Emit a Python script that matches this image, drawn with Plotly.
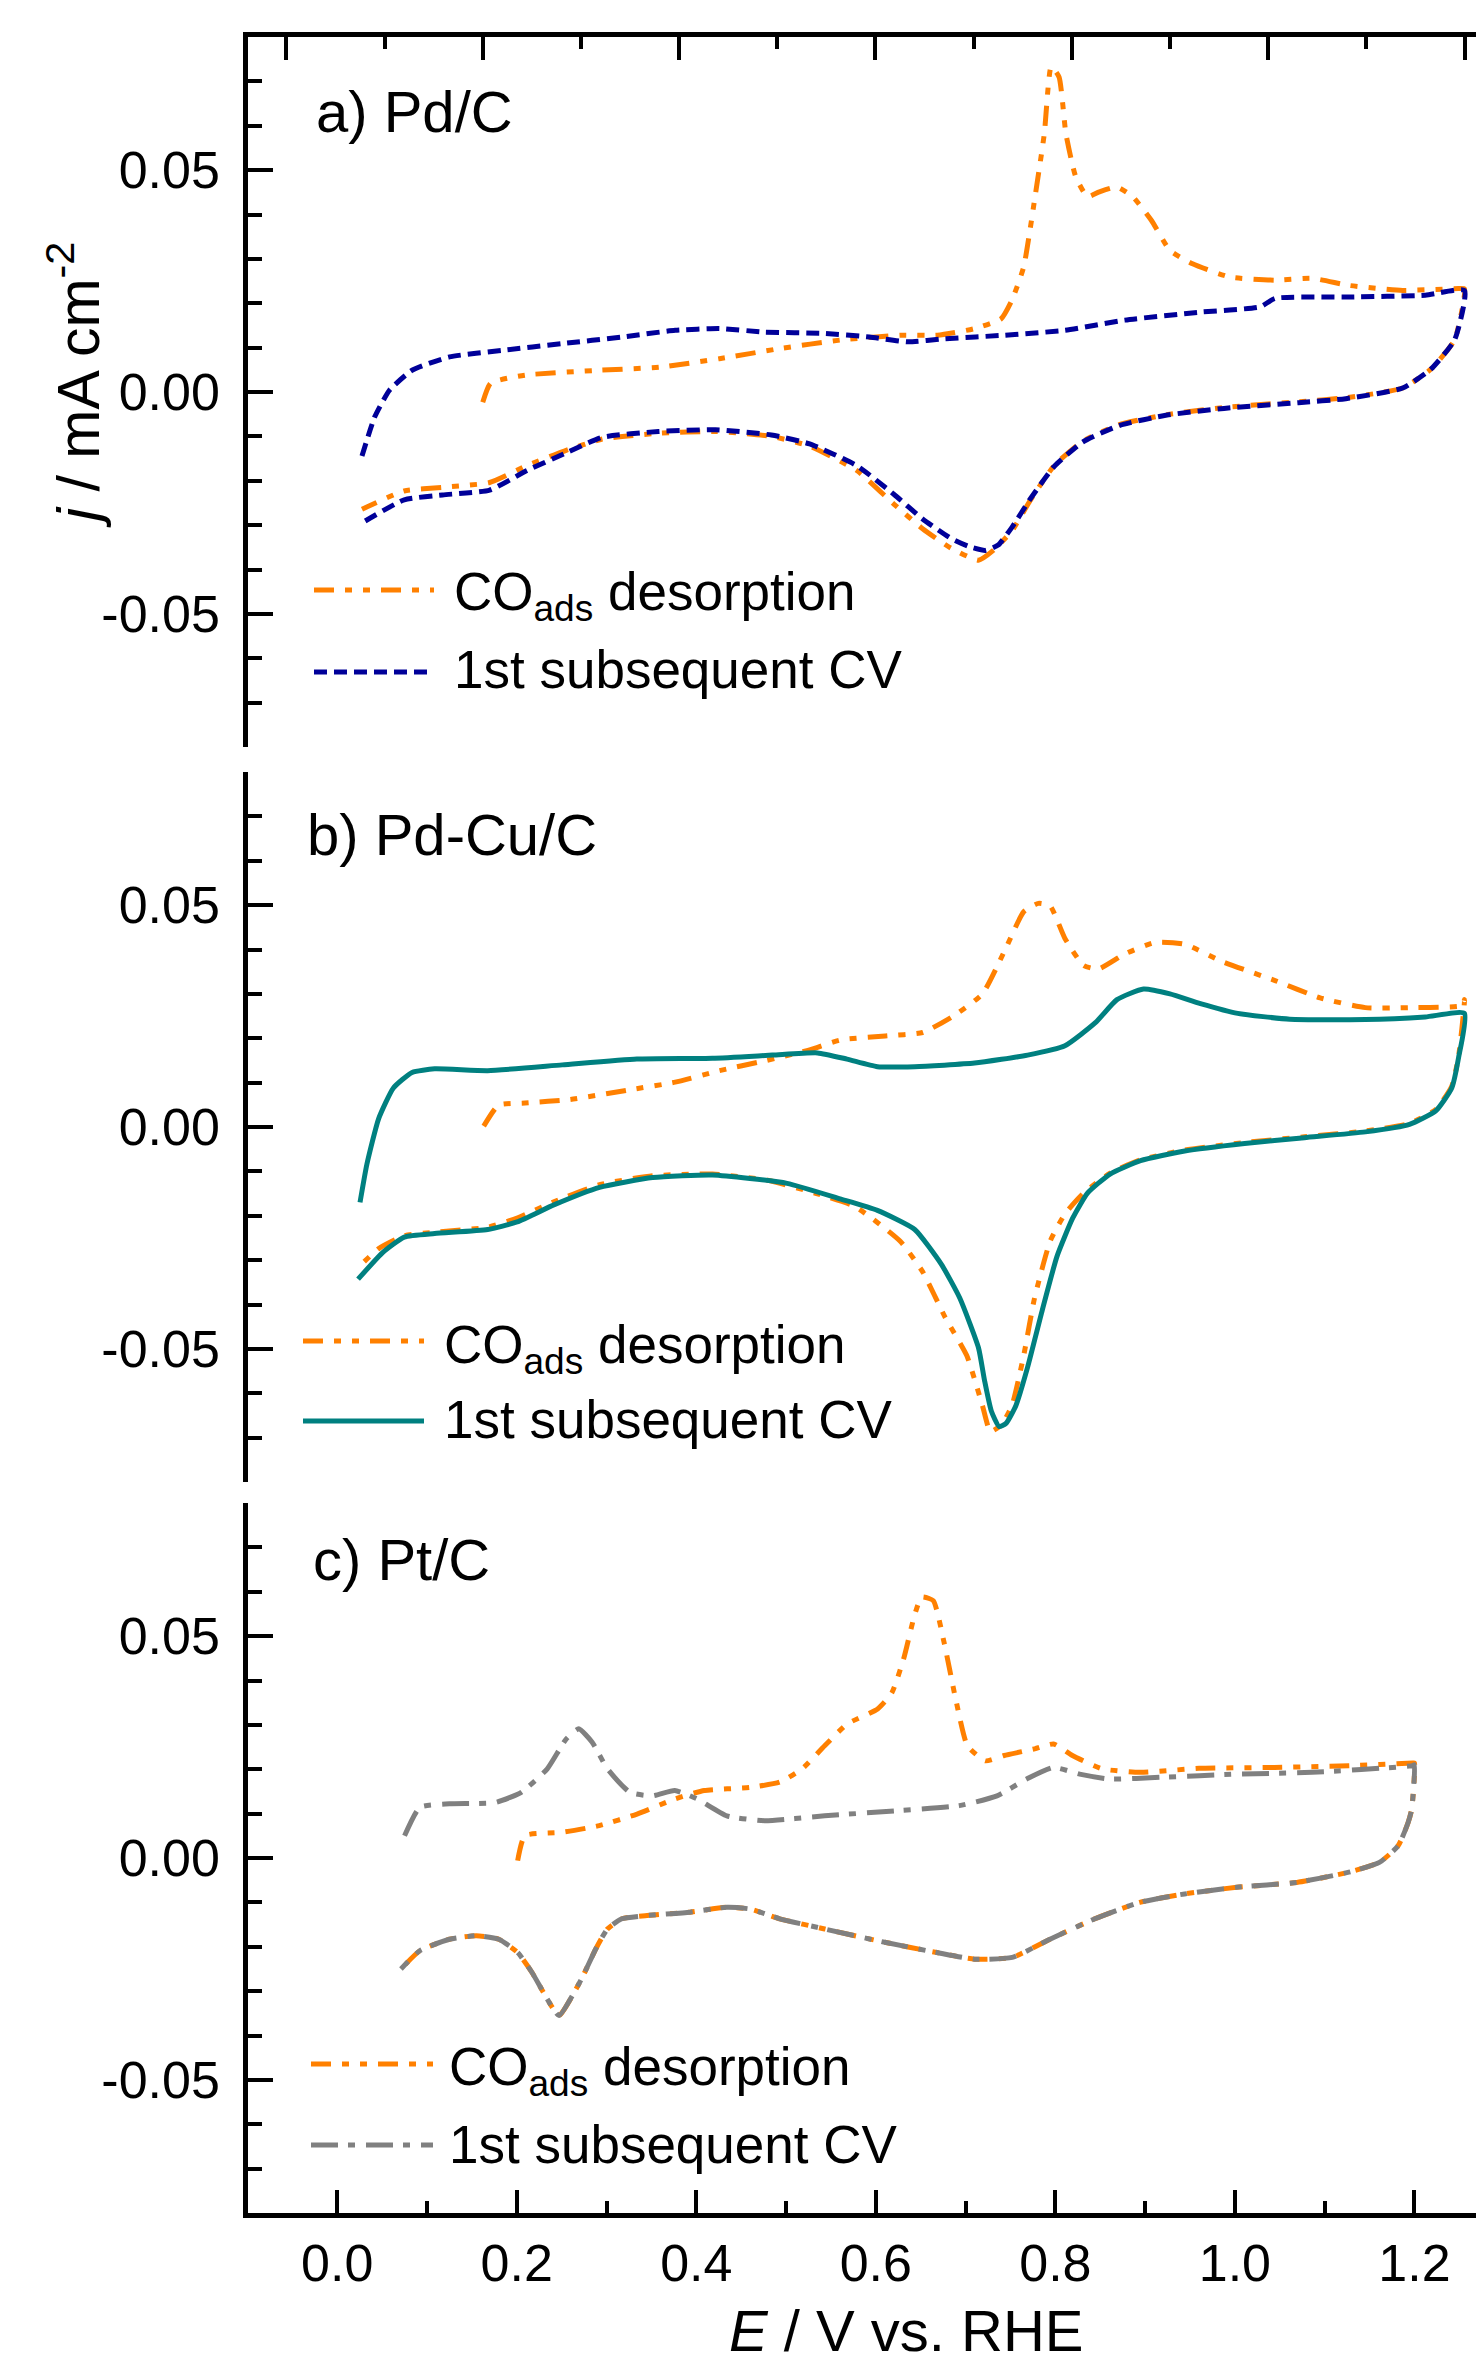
import plotly.graph_objects as go

# ---------------- data ----------------
# Panel a) Pd/C
PDC_CO_E = [0.200, 0.208, 0.243, 0.319, 0.380, 0.441, 0.503, 0.564, 0.625, 0.663, 0.701, 0.728,
            0.739, 0.751, 0.762, 0.772, 0.779, 0.787, 0.794, 0.804, 0.816, 0.828, 0.846, 0.862,
            0.881, 0.900, 0.923, 0.961, 1.007, 1.045, 1.083, 1.137, 1.194, 1.200,
            1.190, 1.166, 1.137, 1.079, 1.031, 0.955, 0.897, 0.849, 0.811, 0.782, 0.758, 0.739,
            0.720, 0.705, 0.677, 0.648, 0.619, 0.581, 0.533, 0.494, 0.437, 0.379, 0.322, 0.283,
            0.245, 0.207, 0.159, 0.120, 0.077]
PDC_CO_J = [-0.0023, 0.0020, 0.0038, 0.0049, 0.0056, 0.0075, 0.0098, 0.0117, 0.0128, 0.0128, 0.0143, 0.0165,
            0.0207, 0.0282, 0.0432, 0.0582, 0.0733, 0.0710, 0.0582, 0.0485, 0.0440, 0.0451, 0.0462, 0.0440,
            0.0387, 0.0319, 0.0289, 0.0259, 0.0252, 0.0256, 0.0240, 0.0229, 0.0233, 0.0232,
            0.0118, 0.0052, 0.0009, -0.0013, -0.0022, -0.0035, -0.0051, -0.0073, -0.0111, -0.0166, -0.0243, -0.0313,
            -0.0357, -0.0379, -0.0352, -0.0308, -0.0253, -0.0177, -0.0122, -0.0100, -0.0089, -0.0093, -0.0106, -0.0133,
            -0.0166, -0.0204, -0.0215, -0.0223, -0.0264]

PDC_CV_E = [0.077, 0.090, 0.105, 0.128, 0.166, 0.220, 0.281, 0.342, 0.396, 0.441, 0.487, 0.548,
            0.594, 0.633, 0.671, 0.732, 0.793, 0.854, 0.931, 0.992, 1.007, 1.083, 1.160, 1.200,
            1.190, 1.166, 1.137, 1.079, 1.031, 0.955, 0.897, 0.849, 0.811, 0.782, 0.758, 0.739,
            0.725, 0.712, 0.695, 0.677, 0.648, 0.619, 0.581, 0.533, 0.494, 0.437, 0.379, 0.322,
            0.283, 0.245, 0.207, 0.159, 0.120, 0.077]
PDC_CV_J = [-0.0144, -0.0056, 0.0004, 0.0049, 0.0079, 0.0094, 0.0109, 0.0124, 0.0139, 0.0143, 0.0135, 0.0132,
            0.0124, 0.0113, 0.0120, 0.0128, 0.0139, 0.0162, 0.0180, 0.0192, 0.0211, 0.0214, 0.0218, 0.0229,
            0.0118, 0.0052, 0.0009, -0.0015, -0.0024, -0.0037, -0.0052, -0.0075, -0.0113, -0.0168, -0.0240, -0.0305,
            -0.0345, -0.0357, -0.0348, -0.0330, -0.0286, -0.0231, -0.0166, -0.0117, -0.0097, -0.0085, -0.0089, -0.0102,
            -0.0139, -0.0177, -0.0221, -0.0232, -0.0243, -0.0295]

# Panel b) Pd-Cu/C
PDCU_CO_E = [0.201, 0.216, 0.243, 0.289, 0.350, 0.396, 0.441, 0.487, 0.533, 0.564, 0.610, 0.648,
             0.678, 0.709, 0.732, 0.751, 0.766, 0.778, 0.793, 0.812, 0.827, 0.854, 0.885, 0.915,
             0.953, 1.007, 1.053, 1.099, 1.144, 1.198, 1.200,
             1.194, 1.187, 1.171, 1.144, 1.099, 1.037, 0.976, 0.915, 0.870, 0.839, 0.812, 0.793,
             0.778, 0.762, 0.751, 0.739, 0.728, 0.717, 0.709, 0.693, 0.671, 0.648, 0.625, 0.579,
             0.540, 0.490, 0.434, 0.373, 0.319, 0.273, 0.235, 0.205, 0.151, 0.120, 0.094, 0.073]
PDCU_CO_J = [0.0002, 0.0049, 0.0054, 0.0062, 0.0084, 0.0101, 0.0127, 0.0149, 0.0174, 0.0196, 0.0205, 0.0213,
             0.0248, 0.0300, 0.0399, 0.0485, 0.0504, 0.0498, 0.0425, 0.0364, 0.0356, 0.0390, 0.0416, 0.0412,
             0.0373, 0.0330, 0.0291, 0.0269, 0.0269, 0.0274, 0.0287,
             0.0160, 0.0092, 0.0040, 0.0008, -0.0009, -0.0022, -0.0035, -0.0052, -0.0074, -0.0104, -0.0149, -0.0196,
             -0.0257, -0.0386, -0.0515, -0.0628, -0.0672, -0.0686, -0.0628, -0.0515, -0.0429, -0.0326, -0.0257, -0.0179,
             -0.0150, -0.0120, -0.0106, -0.0110, -0.0130, -0.0168, -0.0205, -0.0226, -0.0237, -0.0245, -0.0274, -0.0317]

PDCU_CV_E = [0.075, 0.082, 0.094, 0.109, 0.128, 0.151, 0.205, 0.281, 0.357, 0.434, 0.495, 0.541,
             0.571, 0.602, 0.640, 0.701, 0.755, 0.793, 0.824, 0.846, 0.873, 0.900, 0.931, 0.969,
             1.022, 1.099, 1.160, 1.200,
             1.194, 1.187, 1.171, 1.144, 1.099, 1.037, 0.976, 0.915, 0.870, 0.839, 0.816, 0.801,
             0.785, 0.770, 0.755, 0.743, 0.733, 0.726, 0.718, 0.711, 0.705, 0.686, 0.667, 0.640,
             0.602, 0.564, 0.510, 0.434, 0.373, 0.319, 0.273, 0.235, 0.205, 0.151, 0.120, 0.098, 0.073]
PDCU_CV_J = [-0.0170, -0.0084, 0.0019, 0.0088, 0.0123, 0.0131, 0.0127, 0.0140, 0.0153, 0.0155, 0.0162, 0.0167,
             0.0153, 0.0136, 0.0136, 0.0144, 0.0162, 0.0183, 0.0235, 0.0287, 0.0311, 0.0300, 0.0278, 0.0256,
             0.0243, 0.0242, 0.0248, 0.0256,
             0.0157, 0.0088, 0.0037, 0.0006, -0.0011, -0.0024, -0.0037, -0.0054, -0.0076, -0.0106, -0.0149, -0.0205,
             -0.0291, -0.0412, -0.0541, -0.0628, -0.0668, -0.0675, -0.0640, -0.0570, -0.0498, -0.0386, -0.0309, -0.0231,
             -0.0188, -0.0162, -0.0127, -0.0108, -0.0114, -0.0136, -0.0175, -0.0214, -0.0231, -0.0240, -0.0248, -0.0283, -0.0343]

# Panel c) Pt/C
PT_CO_E = [0.201, 0.209, 0.251, 0.292, 0.334, 0.376, 0.409, 0.460, 0.493, 0.518, 0.543, 0.568,
           0.602, 0.618, 0.631, 0.643, 0.651, 0.664, 0.676, 0.689, 0.702, 0.722, 0.743, 0.777,
           0.798, 0.819, 0.852, 0.894, 0.960, 1.044, 1.127, 1.198, 1.200,
           1.197, 1.193, 1.182, 1.161, 1.127, 1.069, 1.002, 0.944, 0.894, 0.844, 0.794, 0.752,
           0.710, 0.668, 0.610, 0.543, 0.493, 0.460, 0.434, 0.393, 0.343, 0.317, 0.301, 0.288,
           0.272, 0.247, 0.234, 0.217, 0.201, 0.180, 0.155, 0.125, 0.092, 0.071]
PT_CO_J = [-0.0006, 0.0050, 0.0058, 0.0073, 0.0099, 0.0133, 0.0152, 0.0159, 0.0171, 0.0201, 0.0253, 0.0302,
           0.0336, 0.0373, 0.0449, 0.0546, 0.0588, 0.0580, 0.0486, 0.0358, 0.0253, 0.0219, 0.0231, 0.0246,
           0.0257, 0.0231, 0.0201, 0.0193, 0.0202, 0.0204, 0.0208, 0.0214, 0.0214,
           0.0110, 0.0080, 0.0028, -0.0010, -0.0032, -0.0055, -0.0066, -0.0081, -0.0100, -0.0137, -0.0183, -0.0224,
           -0.0228, -0.0213, -0.0190, -0.0160, -0.0137, -0.0115, -0.0111, -0.0122, -0.0130, -0.0137, -0.0160, -0.0205,
           -0.0273, -0.0355, -0.0318, -0.0258, -0.0213, -0.0183, -0.0175, -0.0183, -0.0209, -0.0250]

PT_CV_E = [0.075, 0.092, 0.125, 0.176, 0.205, 0.234, 0.255, 0.269, 0.284, 0.301, 0.326, 0.351,
           0.376, 0.401, 0.434, 0.476, 0.543, 0.627, 0.693, 0.735, 0.768, 0.798, 0.827, 0.860,
           0.919, 1.002, 1.086, 1.198, 1.200,
           1.197, 1.193, 1.182, 1.161, 1.127, 1.069, 1.002, 0.944, 0.894, 0.844, 0.794, 0.752,
           0.710, 0.668, 0.610, 0.543, 0.493, 0.460, 0.434, 0.393, 0.343, 0.317, 0.301, 0.288,
           0.272, 0.247, 0.234, 0.217, 0.201, 0.180, 0.155, 0.125, 0.092, 0.071]
PT_CV_J = [0.0050, 0.0114, 0.0122, 0.0125, 0.0148, 0.0201, 0.0268, 0.0291, 0.0261, 0.0201, 0.0148, 0.0140,
           0.0152, 0.0133, 0.0095, 0.0084, 0.0095, 0.0107, 0.0118, 0.0140, 0.0178, 0.0204, 0.0189, 0.0178,
           0.0182, 0.0189, 0.0193, 0.0208, 0.0210,
           0.0110, 0.0080, 0.0028, -0.0010, -0.0032, -0.0055, -0.0066, -0.0081, -0.0100, -0.0137, -0.0183, -0.0224,
           -0.0228, -0.0213, -0.0190, -0.0160, -0.0137, -0.0115, -0.0111, -0.0122, -0.0130, -0.0137, -0.0160, -0.0205,
           -0.0273, -0.0355, -0.0318, -0.0258, -0.0213, -0.0183, -0.0175, -0.0183, -0.0209, -0.0250]

PANEL_LABELS = ["a) Pd/C", "b) Pd-Cu/C", "c) Pt/C"]
LEGEND_CO = "CO<sub>ads</sub> desorption"
LEGEND_CV = "1st subsequent CV"
X_TICKS = [0.0, 0.2, 0.4, 0.6, 0.8, 1.0, 1.2]
X_TICKTEXT = ["0.0", "0.2", "0.4", "0.6", "0.8", "1.0", "1.2"]
X_MINOR = [0.1, 0.3, 0.5, 0.7, 0.9, 1.1]
Y_TICKS = [-0.05, 0.0, 0.05]
Y_TICKTEXT = ["-0.05", "0.00", "0.05"]
Y_MINOR = [-0.08, -0.07, -0.06, -0.04, -0.03, -0.02, -0.01, 0.01, 0.02, 0.03, 0.04, 0.06, 0.07, 0.08]
X_TITLE = "<i>E</i> / V vs. RHE"
Y_TITLE = "<i>j</i> / mA cm<sup>-2</sup>"

# ---------------- styling ----------------
W, H = 1476, 2364
ML, MR, MT, MB = 248, 0, 37, 151
FONT = "Arial, Liberation Sans, sans-serif"
ORANGE = "#FF8000"
NAVY = "#000099"
TEAL = "#008080"
GRAY = "#808080"
LW = 5
DASH_CO = "20px,11px,7px,11px,7px,11px"
DASH_NAVY = "13px,7px"
DASH_GRAY = "27px,10px,7px,11px"


def px_x(px):
    return (px - ML) / (W - ML - MR)


def px_y(py):
    return (H - MB - py) / (H - MT - MB)


fig = go.Figure()

series = [
    (PDC_CO_E, PDC_CO_J, ORANGE, DASH_CO, "x", "y"),
    (PDC_CV_E, PDC_CV_J, NAVY, DASH_NAVY, "x", "y"),
    (PDCU_CO_E, PDCU_CO_J, ORANGE, DASH_CO, "x2", "y2"),
    (PDCU_CV_E, PDCU_CV_J, TEAL, "solid", "x2", "y2"),
    (PT_CO_E, PT_CO_J, ORANGE, DASH_CO, "x3", "y3"),
    (PT_CV_E, PT_CV_J, GRAY, DASH_GRAY, "x3", "y3"),
]
for e, j, col, dash, xa, ya in series:
    fig.add_trace(go.Scatter(x=e, y=j, mode="lines", xaxis=xa, yaxis=ya,
                             line=dict(color=col, width=LW, dash=dash, shape="spline", smoothing=0.5),
                             showlegend=False, hoverinfo="skip"))

# panel pixel extents
PANELS = [(37, 747), (772, 1482), (1503, 2213)]
PD_RANGE = [-0.0391, 1.2117]
PT_RANGE = [-0.0994, 1.2686]

tickfont = dict(family=FONT, size=52, color="black")
common_y = dict(range=[-0.08, 0.08], tickmode="array", tickvals=Y_TICKS, ticktext=Y_TICKTEXT,
                ticks="inside", ticklen=25, tickwidth=4, tickcolor="black",
                showline=True, linewidth=4.5, linecolor="black", showgrid=False, zeroline=False,
                minor=dict(tickmode="array", tickvals=Y_MINOR, ticks="inside", ticklen=14,
                           tickwidth=4, tickcolor="black", showgrid=False),
                tickfont=tickfont, ticklabelstandoff=13, fixedrange=True)

layout_axes = {}
for i, (top, bot) in enumerate(PANELS):
    name = "yaxis" if i == 0 else f"yaxis{i + 1}"
    d = dict(common_y)
    d["domain"] = [px_y(bot), px_y(top)]
    d["anchor"] = "x" if i == 0 else f"x{i + 1}"
    layout_axes[name] = d

common_x = dict(tickmode="array", tickvals=X_TICKS, ticktext=X_TICKTEXT,
                ticks="inside", ticklen=23, tickwidth=4, tickcolor="black",
                showline=True, linewidth=4.5, linecolor="black", showgrid=False, zeroline=False,
                minor=dict(tickmode="array", tickvals=X_MINOR, ticks="inside", ticklen=12,
                           tickwidth=4, tickcolor="black", showgrid=False),
                tickfont=tickfont, domain=[0, 1], fixedrange=True)

xa = dict(common_x)
xa.update(range=PD_RANGE, anchor="y", side="top", showticklabels=False)
layout_axes["xaxis"] = xa
xb = dict(common_x)
xb.update(range=PD_RANGE, anchor="y2", showline=False, ticks="", showticklabels=False,
          minor=dict(ticks="", showgrid=False))
layout_axes["xaxis2"] = xb
xc = dict(common_x)
xc.update(range=PT_RANGE, anchor="y3", side="bottom", ticklabelstandoff=1)
layout_axes["xaxis3"] = xc

fig.update_layout(width=W, height=H, margin=dict(l=ML, r=MR, t=MT, b=MB, pad=0),
                  paper_bgcolor="white", plot_bgcolor="white", showlegend=False,
                  font=dict(family=FONT, color="black"), **layout_axes)

annotations = []
# panel labels (x left, baseline)
LABEL_POS = [(314, 132), (305, 855), (311, 1580)]
LABEL_SIZE = 58
for txt, (x, base) in zip(PANEL_LABELS, LABEL_POS):
    annotations.append(dict(text=txt, x=px_x(x), y=px_y(base - 0.3465 * LABEL_SIZE),
                            xref="paper", yref="paper", xanchor="left", yanchor="middle",
                            showarrow=False, font=dict(family=FONT, size=LABEL_SIZE, color="black")))

# legends: (line x0, x1, text x, row1 y, row2 y, second colour, second dash, baselines)
LEG_SIZE = 53
LEGENDS = [
    (314, 434, 452, 590, 672, NAVY, DASH_NAVY, 608, 688),
    (303, 424, 442, 1341, 1421, TEAL, "solid", 1361, 1438),
    (311, 433, 447, 2064, 2145, GRAY, DASH_GRAY, 2083, 2163),
]
shapes = []
for x0, x1, tx, y1, y2, col2, dash2, b1, b2 in LEGENDS:
    shapes.append(dict(type="line", xref="paper", yref="paper", x0=px_x(x0), x1=px_x(x1),
                       y0=px_y(y1), y1=px_y(y1), line=dict(color=ORANGE, width=LW, dash=DASH_CO)))
    shapes.append(dict(type="line", xref="paper", yref="paper", x0=px_x(x0), x1=px_x(x1),
                       y0=px_y(y2), y1=px_y(y2), line=dict(color=col2, width=LW, dash=dash2)))
    annotations.append(dict(text=LEGEND_CO, x=px_x(tx), y=px_y(b1 - 0.3465 * LEG_SIZE + 6),
                            xref="paper", yref="paper", xanchor="left", yanchor="middle",
                            showarrow=False, font=dict(family=FONT, size=LEG_SIZE, color="black")))
    annotations.append(dict(text=LEGEND_CV, x=px_x(tx), y=px_y(b2 - 0.3465 * LEG_SIZE),
                            xref="paper", yref="paper", xanchor="left", yanchor="middle",
                            showarrow=False, font=dict(family=FONT, size=LEG_SIZE, color="black")))

# axis titles
annotations.append(dict(text=X_TITLE, x=px_x(906), y=px_y(2330), xref="paper", yref="paper",
                        xanchor="center", yanchor="middle", showarrow=False,
                        font=dict(family=FONT, size=58, color="black")))
annotations.append(dict(text=Y_TITLE, x=px_x(74), y=px_y(385), xref="paper", yref="paper",
                        xanchor="center", yanchor="middle", textangle=-90, showarrow=False,
                        font=dict(family=FONT, size=59, color="black")))

fig.update_layout(annotations=annotations, shapes=shapes)
fig.write_html("out.html", config=dict(displayModeBar=False))
